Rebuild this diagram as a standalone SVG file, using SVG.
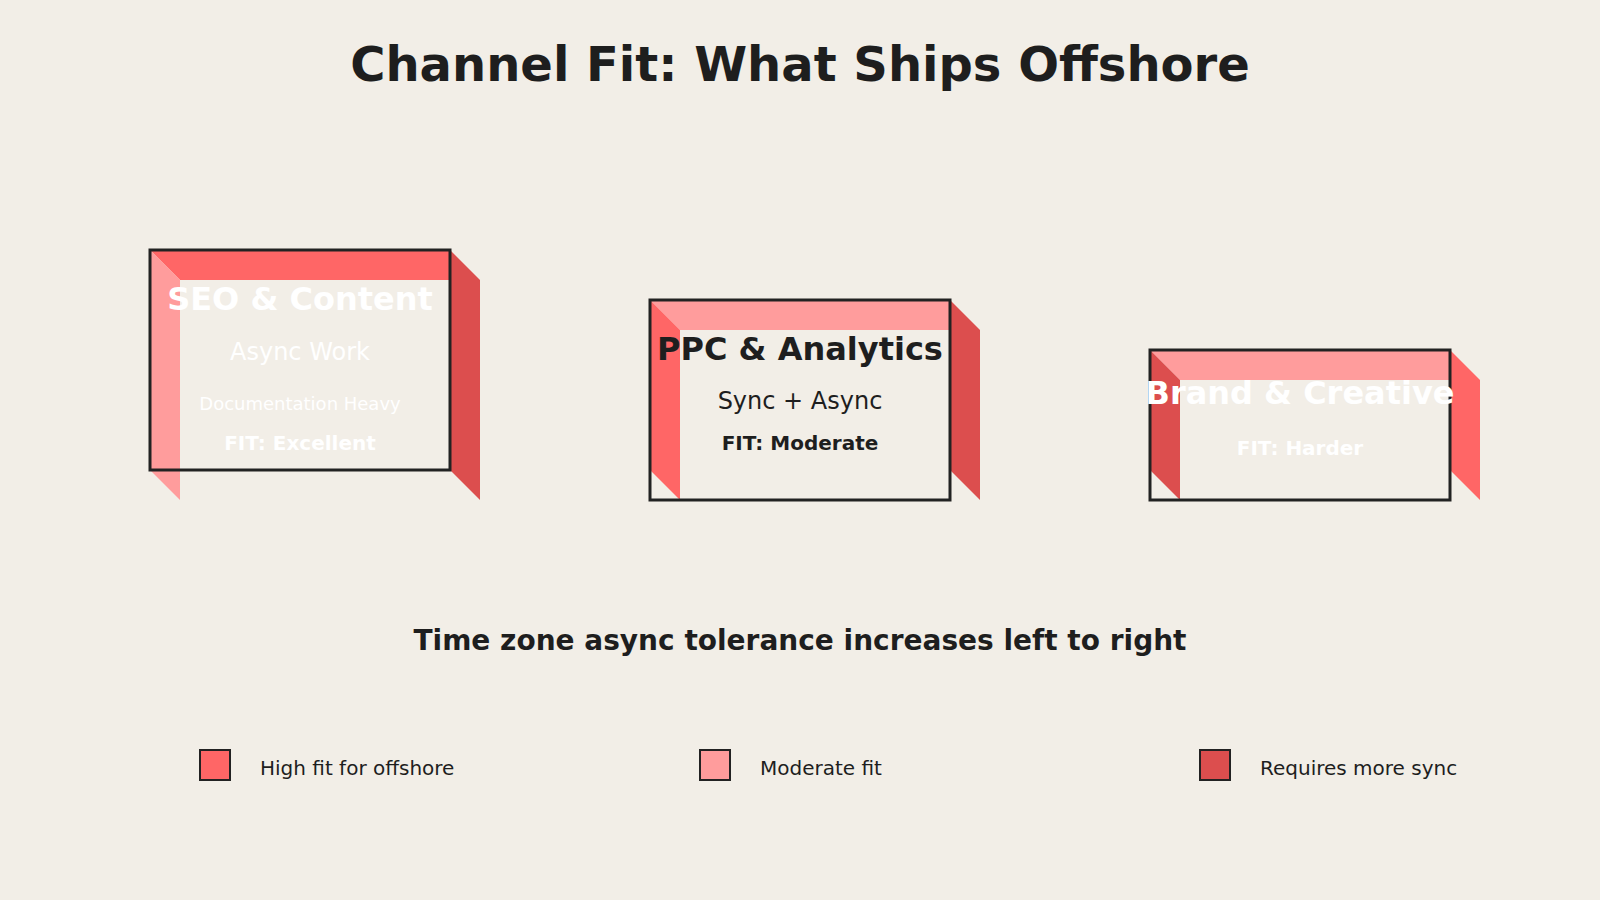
<svg xmlns="http://www.w3.org/2000/svg" width="1600" height="900" viewBox="0 0 1600 900">
<style>
text{font-family:"DejaVu Sans","Liberation Sans",sans-serif;text-anchor:middle}
.frame{fill:none;stroke:#222;stroke-width:3}
.hi{fill:#FF6666}
.mid{fill:#FF9C9C}
.lo{fill:#DC4E4E}
.ttl{font-size:32px;font-weight:bold}
.sub{font-size:24px}
.det{font-size:18px}
.fit{font-size:20px;font-weight:bold}
.w{fill:#FFFFFF}
.k{fill:#1E1E1E}
.leg{font-size:20px;fill:#1E1E1E;text-anchor:start}
.sw{stroke:#222;stroke-width:2}
</style>
<rect width="1600" height="900" fill="#F2EEE7"/>
<text x="800" y="81" font-size="48" font-weight="bold" fill="#1E1E1E">Channel Fit: What Ships Offshore</text>
<g id="connectors"/>
<g id="node-seo">
<polygon class="hi" points="150,250 450,250 450,280 180,280"/>
<polygon class="mid" points="150,250 180,280 180,500 150,470"/>
<polygon class="lo" points="450,250 480,280 480,500 450,470"/>
<rect class="frame" x="150" y="250" width="300" height="220"/>
<text class="ttl w" x="300" y="310">SEO &amp; Content</text>
<text class="sub w" x="300" y="360">Async Work</text>
<text class="det w" x="300" y="410">Documentation Heavy</text>
<text class="fit w" x="300" y="450">FIT: Excellent</text>
</g>
<g id="node-ppc">
<polygon class="mid" points="650,300 950,300 950,330 680,330"/>
<polygon class="hi" points="650,300 680,330 680,500 650,470"/>
<polygon class="lo" points="950,300 980,330 980,500 950,470"/>
<rect class="frame" x="650" y="300" width="300" height="200"/>
<text class="ttl k" x="800" y="360">PPC &amp; Analytics</text>
<text class="sub k" x="800" y="409">Sync + Async</text>
<text class="fit k" x="800" y="450">FIT: Moderate</text>
</g>
<g id="node-brand">
<polygon class="mid" points="1150,350 1450,350 1450,380 1180,380"/>
<polygon class="lo" points="1150,350 1180,380 1180,500 1150,470"/>
<polygon class="hi" points="1450,350 1480,380 1480,500 1450,470"/>
<rect class="frame" x="1150" y="350" width="300" height="150"/>
<text class="ttl w" x="1300" y="404">Brand &amp; Creative</text>
<text class="fit w" x="1300" y="455">FIT: Harder</text>
</g>
<text x="800" y="650" font-size="28" font-weight="bold" fill="#1E1E1E">Time zone async tolerance increases left to right</text>
<g id="legend">
<rect class="hi sw" x="200" y="750" width="30" height="30"/>
<text class="leg" x="260" y="775">High fit for offshore</text>
<rect class="mid sw" x="700" y="750" width="30" height="30"/>
<text class="leg" x="760" y="775">Moderate fit</text>
<rect class="lo sw" x="1200" y="750" width="30" height="30"/>
<text class="leg" x="1260" y="775">Requires more sync</text>
</g>
</svg>
